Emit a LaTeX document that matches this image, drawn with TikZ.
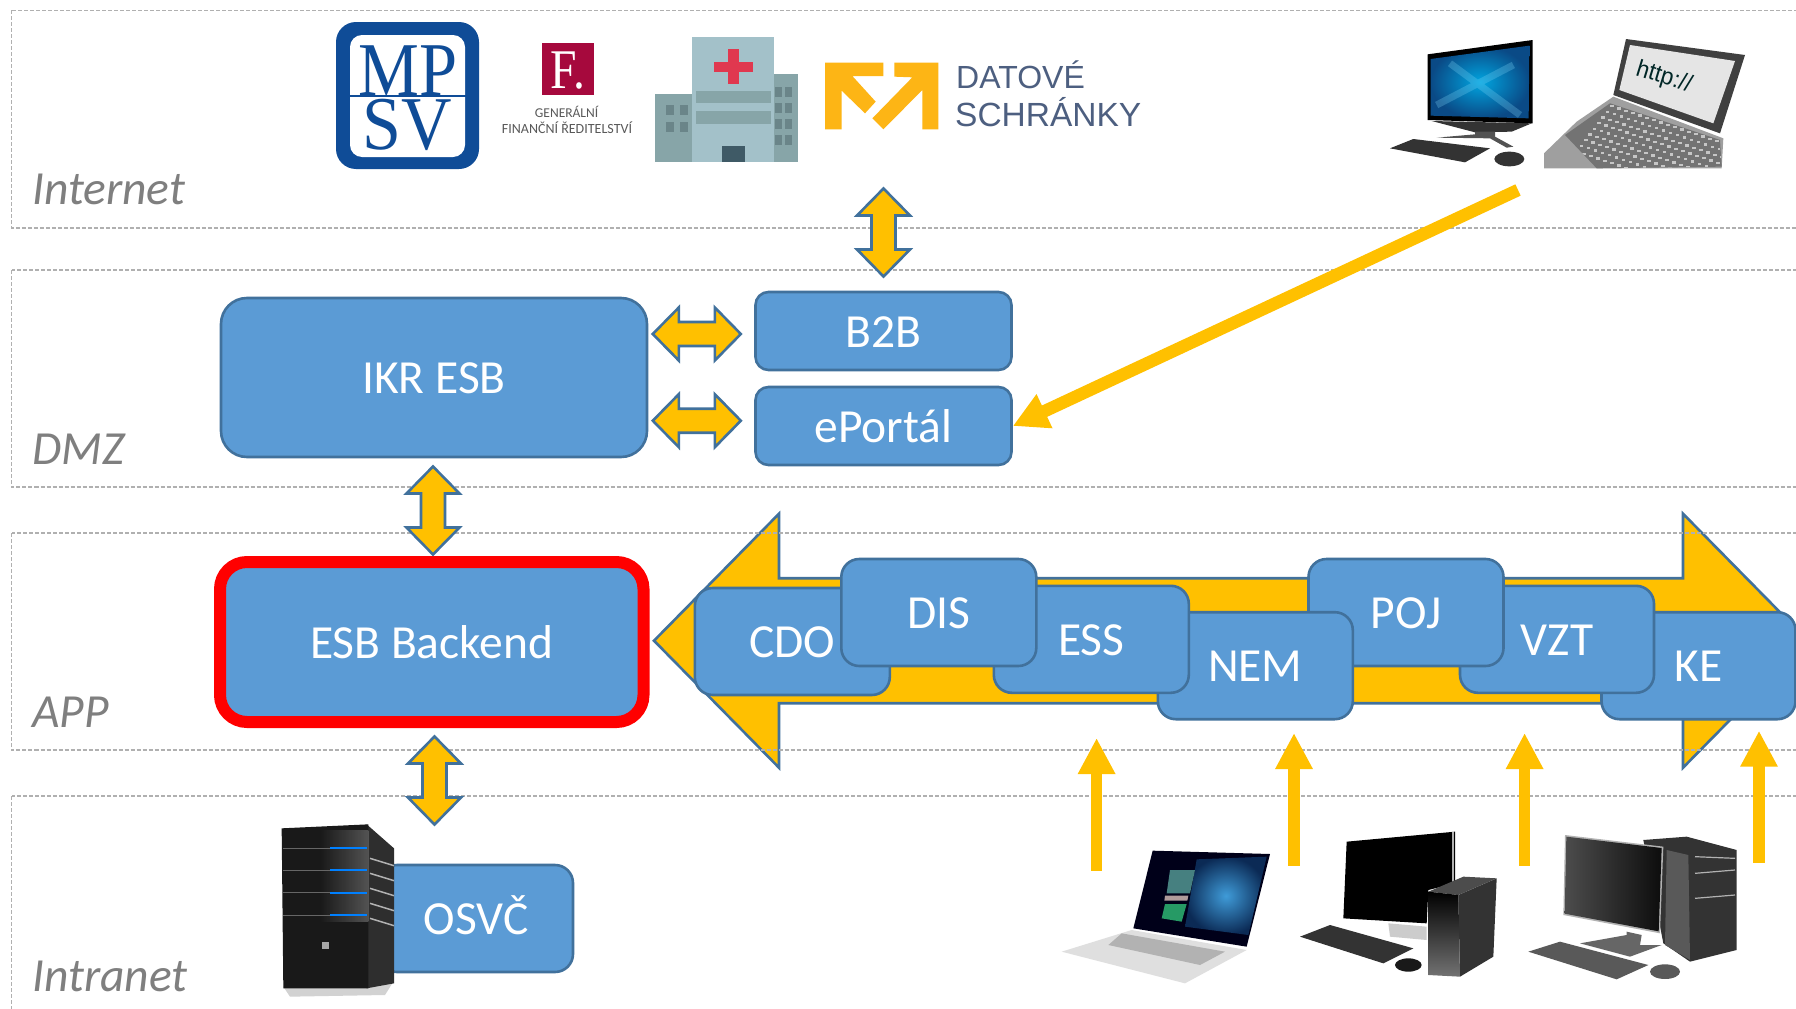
\documentclass[tikz,border=0pt]{standalone}
\usepackage{fontspec}
\setmainfont{Carlito}
\newfontfamily\lserif{Liberation Serif}
\newfontfamily\lsans{Liberation Sans}
\usetikzlibrary{arrows.meta}
\newcommand\fsz[1]{\fontsize{#1}{#1}\selectfont}
\definecolor{boxblue}{HTML}{5B9BD5}
\definecolor{boxline}{HTML}{41719C}
\definecolor{amber}{HTML}{FFC000}
\definecolor{zonegray}{HTML}{B0B0B0}
\definecolor{labelgray}{HTML}{7F7F7F}
\definecolor{mpsv}{HTML}{0F4C97}
\definecolor{gfrred}{HTML}{A6093D}
\definecolor{hosplight}{HTML}{A3C1C9}
\definecolor{hospdark}{HTML}{87A5A8}
\definecolor{hospwin}{HTML}{6A8589}
\definecolor{hospred}{HTML}{E0384F}
\definecolor{hospdoor}{HTML}{3F5A66}
\definecolor{dslogo}{HTML}{FDB515}
\definecolor{dstext}{HTML}{4D5F80}
\definecolor{kbd}{HTML}{333333}
\definecolor{screenhi}{HTML}{00A5E0}
\definecolor{screenlo}{HTML}{0A4A86}
\definecolor{winnavy}{HTML}{0B2A55}
\definecolor{winglow}{HTML}{3F9BD8}
\tikzset{
  zone/.style={draw=zonegray,line width=1.6pt,dash pattern=on 4pt off 2pt},
  zonelabel/.style={anchor=base west,inner sep=0pt,text=labelgray,font=\fsz{47.5}\itshape},
  blockbox/.style={draw=boxline,fill=boxblue,line width=2.6pt,text=white,font=\fsz{47.5},inner sep=0pt,align=center,text height=32.5pt,text depth=0pt},
  blockarrow/.style={draw=boxline,fill=amber,line width=2.6pt,line join=miter},
  amberarrow/.style={draw=amber,line width=11.5pt,-{Triangle[length=36pt,width=35pt]}},
  icon/.style 2 args={shift={(#1,#2)},x=.33333pt,y=-.33333pt},
}
% name, centre x, centre y, rotation, half length, head length, half wing, half shaft
\newcommand\dblblock[8]{%
  \begin{scope}[shift={(#2,#3)},rotate=#4]
  \coordinate (#1) at (0,0);
  \draw[blockarrow] (-#5,0)--({-#5+#6},-#7)--({-#5+#6},-#8)--({#5-#6},-#8)--({#5-#6},-#7)--(#5,0)
    --({#5-#6},#7)--({#5-#6},#8)--({-#5+#6},#8)--({-#5+#6},#7)--cycle;
  \end{scope}}
\begin{document}
\begin{tikzpicture}[x=1pt,y=-1pt]
\useasboundingbox (0,0) rectangle (1796,1009);
\clip (0,0) rectangle (1796,1009);
\fill[white] (0,0) rectangle (1796,1009);

% big flow arrow
\dblblock{flow}{1231}{640.7}{0}{577}{125}{127}{62.5}

% zones
\draw[zone] (11.5,10.3) rectangle (1830,228);
\draw[zone] (11.5,270) rectangle (1830,487);
\draw[zone] (11.5,533) rectangle (1830,750);
\draw[zone] (11.5,796) rectangle (1830,1040);
\node[zonelabel] (zinternet) at (32,204) {Internet};
\node[zonelabel] (zdmz) at (32,464) {DMZ};
\node[zonelabel] (zapp) at (32,727.5) {APP};
\node[zonelabel] (zintranet) at (32,991.5) {Intranet};

% boxes
\node[blockbox,rounded corners=26pt,minimum width=426pt,minimum height=159pt] (ikr) at (434,377.5) {IKR ESB};
\node[blockbox,rounded corners=13pt,minimum width=256pt,minimum height=78pt] (b2b) at (883.5,331) {B2B};
\node[blockbox,rounded corners=13pt,minimum width=256pt,minimum height=78pt] (eportal) at (883.5,426) {ePortál};
\node[blockbox,draw=red,line width=12pt,rounded corners=27pt,minimum width=423.5pt,minimum height=160pt] (esb) at (431.75,642) {ESB Backend};
\node[blockbox,rounded corners=18pt,minimum width=194pt,minimum height=107pt] (ke) at (1698.5,665.7) {KE};
\node[blockbox,rounded corners=18pt,minimum width=194pt,minimum height=107pt] (vzt) at (1557,639.3) {VZT};
\node[blockbox,rounded corners=18pt,minimum width=195pt,minimum height=107pt] (poj) at (1406,612.5) {POJ};
\node[blockbox,rounded corners=18pt,minimum width=195pt,minimum height=107pt] (nem) at (1255.3,665.7) {NEM};
\node[blockbox,rounded corners=18pt,minimum width=195pt,minimum height=107pt] (ess) at (1091.3,639.3) {ESS};
\node[blockbox,rounded corners=18pt,minimum width=195pt,minimum height=107pt] (cdo) at (792.3,641.5) {CDO};
\node[blockbox,rounded corners=18pt,minimum width=195pt,minimum height=107pt] (dis) at (938.8,612.5) {DIS};
\node[blockbox,rounded corners=18pt,minimum width=194pt,minimum height=107pt] (osvc) at (476,918.5) {OSVČ};

% double arrows
\dblblock{a1}{883.5}{232.5}{90}{44}{27}{26.5}{12}
\dblblock{a2}{696.8}{334}{0}{44}{26}{26.5}{12}
\dblblock{a3}{696.8}{420.7}{0}{44}{26}{26.5}{12}
\dblblock{a4}{433}{510.5}{90}{44}{27}{26.5}{12}
\dblblock{a5}{434.5}{780.5}{90}{44}{27}{26.5}{12}

% single arrows
\coordinate (web) at (1518,190);
\draw[draw=amber,line width=12.5pt,-{Triangle[length=35pt,width=35pt]}] (web) -- (eportal.east);
\coordinate (t1) at (1096.6,738); \coordinate (s1) at (1096.6,870.7);
\coordinate (t2) at (1294,733);   \coordinate (s2) at (1294,865.7);
\coordinate (t3) at (1524.6,733); \coordinate (s3) at (1524.6,865.7);
\coordinate (t4) at (1759,730.7); \coordinate (s4) at (1759,862.7);
\draw[amberarrow] (s1) -- (t1);
\draw[amberarrow] (s2) -- (t2);
\draw[amberarrow] (s3) -- (t3);
\draw[amberarrow] (s4) -- (t4);

% MPSV logo
\fill[mpsv,rounded corners=20pt] (336,22) rectangle (479,169);
\fill[white,rounded corners=12pt] (350,35) rectangle (465,157);
\node[anchor=base,inner sep=0pt,text=mpsv,font=\lserif\fsz{76},xscale=.9,text height=50pt,text depth=0pt] (mp) at (408,95) {MP};
\node[anchor=base,inner sep=0pt,text=mpsv,font=\lserif\fsz{76},xscale=.92,text height=50pt,text depth=0pt] (sv) at (407,149) {SV};
\draw[mpsv,line width=1.4pt] (349,96) -- (466,96);

% GFR logo
\fill[gfrred] (542,43) rectangle (594,95);
\node[anchor=base,inner sep=0pt,text=white,font=\lserif\fsz{56},xscale=.85] (gfrf) at (568,88) {F.};
\node[anchor=base,inner sep=0pt,text=black!65,font=\fsz{13.5}] (gfr1) at (566.6,117) {GENERÁLNÍ};
\node[anchor=base,inner sep=0pt,text=black!65,font=\fsz{14}] (gfr2) at (567,133) {FINANČNÍ ŘEDITELSTVÍ};

% hospital
\fill[hospdark] (655,94) rectangle (692,162);
\fill[hospdark] (774,74) rectangle (798,162);
\fill[hosplight] (692,37) rectangle (774,162);
\fill[hospdark] (696,91) rectangle (771,103);
\fill[hospdark] (696,111) rectangle (771,124);
\fill[hospred] (713.5,62) rectangle (753,72);
\fill[hospred] (727.5,49) rectangle (739,84);
\fill[hospdoor] (722,146) rectangle (745,162);
\foreach \wx in {666,680} \foreach \wy in {105,122} \fill[hospwin] (\wx,\wy) rectangle ++(8,10);
\foreach \wx in {775,785} \foreach \wy in {87,103,119,135} \fill[hospwin] (\wx,\wy) rectangle ++(7,10);

% Datove schranky logo
\begin{scope}[icon={815}{50}]
\fill[dslogo] (30,38)--(205,38)--(205,78)--(112,78)--(182,155)--(150,190)--(80,122)--(80,238)--(30,238)--cycle;
\fill[dslogo] (238,38)--(370,38)--(370,238)--(322,238)--(322,120)--(205,238)--(172,205)--(292,82)--(238,80)--cycle;
\end{scope}
\node[anchor=base west,inner sep=0pt,text=dstext,font=\lsans\fsz{32}] (ds1) at (956,88) {DATOVÉ};
\node[anchor=base west,inner sep=0pt,text=dstext,font=\lsans\fsz{33.5}] (ds2) at (955,126) {SCHRÁNKY};

% all-in-one desktop
\begin{scope}[icon={1380}{25}]
\fill[kbd] (155,288)--(455,295)--(395,320)--(285,322)--cycle;
\fill[kbd!85] (285,320)--(345,320)--(345,335)--(400,365)--(380,368)--(330,340)--(170,338)--(285,328)--cycle;
\fill[black] (143,88)--(458,45)--(458,295)--(143,285)--cycle;
\shade[inner color=screenhi,outer color=screenlo] (152,102)--(448,62)--(446,280)--(152,272)--cycle;
\draw[cyan!50!white,line width=7pt,opacity=.28] (210,115)--(420,270) (170,240)--(400,120);
\fill[kbd] (30,370)--(100,342)--(330,370)--(255,412)--cycle;
\fill[kbd] (388,402) ellipse[x radius=45,y radius=22];
\end{scope}

% http laptop
\begin{scope}[icon={1380}{25}]
\fill[gray!75] (700,215)--(1030,340)--(1025,430)--(492,430)--(492,385)--(590,290)--cycle;
\fill[black!55] (690,235)--(1020,345)--(1025,425)--(650,430)--(555,330)--cycle;
\begin{scope}
\clip (690,235)--(1020,345)--(1025,425)--(650,430)--(555,330)--cycle;
\foreach \r in {0,...,8} \foreach \c in {0,...,17}
  \fill[gray!45] ({690+\c*21-\r*13},{240+\c*7+\r*17}) rectangle ++(11,7);
\end{scope}
\fill[black!75] (738,42)--(1095,90)--(1020,325)--(700,210)--cycle;
\fill[gray!20] (750,60)--(1065,108)--(1000,295)--(718,195)--cycle;
\node[inner sep=0pt,rotate=-17,text=black!70!teal,font=\lsans\fsz{24},xscale=.95] (http) at (852,158) {http://};
\end{scope}

% server
\begin{scope}[icon={270}{815}]
\fill[gray!35] (40,515)--(370,500)--(345,540)--(60,545)--cycle;
\fill[black!82] (290,28)--(372,100)--(372,505)--(290,520)--cycle;
\foreach \sy in {130,175,220,265,310} \draw[gray!60,line width=1.5pt] (300,\sy)--(372,\sy+22);
\fill[black!90] (35,40)--(295,28)--(295,520)--(40,520)--cycle;
\shade[left color=black!90,right color=black!65,opacity=.9] (150,45) rectangle (295,320);
\foreach \sy in {100,165,233,300} {
  \draw[black!60,line width=1pt] (40,\sy)--(180,\sy);
  \fill[blue!50!cyan] (180,\sy-3) rectangle (290,\sy+3);
}
\fill[gray!70] (155,380) rectangle (178,402);
\end{scope}

% silver laptop
\begin{scope}[icon={1050}{830}]
\fill[gray!25] (245,300)--(590,360)--(405,460)--(35,365)--cycle;
\fill[gray!60] (215,310)--(525,365)--(450,405)--(175,345)--cycle;
\fill[black!90!blue] (308,62)--(660,72)--(590,350)--(250,295)--cycle;
\shade[inner color=winglow,outer color=winnavy] (440,88)--(650,80)--(595,315)--(405,290)--cycle;
\fill[teal!45!gray] (360,120)--(435,120)--(420,190)--(350,190)--cycle;
\fill[red!12!gray!70] (345,197)--(415,197)--(412,212)--(343,212)--cycle;
\fill[green!30!teal!70!gray] (345,222)--(410,222)--(395,275)--(335,265)--cycle;
\end{scope}

% desktop with slim tower
\begin{scope}[icon={1290}{820}]
\fill[gray!40] (295,310)--(410,320)--(410,360)--(300,350)--cycle;
\fill[black] (170,65)--(495,35)--(495,190)--(415,210)--(410,310)--(160,295)--cycle;
\draw[gray!60,line width=2pt] (490,35)--(490,190);
\fill[kbd] (30,350)--(120,315)--(370,385)--(280,430)--cycle;
\fill[black!90] (355,435) ellipse[x radius=40,y radius=20];
\fill[black!80] (505,225)--(620,175)--(610,410)--(510,470)--cycle;
\fill[black!70] (415,215)--(520,170)--(620,175)--(505,225)--cycle;
\shade[top color=black,bottom color=black!55] (415,215)--(505,225)--(510,470)--(415,465)--cycle;
\end{scope}

% desktop with big tower
\begin{scope}[icon={1520}{820}]
\fill[black!80] (370,60)--(500,50)--(650,90)--(650,390)--(510,425)--(430,370)--cycle;
\fill[black!65] (440,90)--(505,105)--(510,420)--(435,375)--cycle;
\draw[gray!60,line width=1.2pt] (525,110)--(645,115) (525,160)--(645,150) (525,235)--(645,225);
\fill[black!60] (320,335)--(365,345)--(360,375)--(425,375)--(330,410)--(180,370)--(320,345)--cycle;
\fill[gray!60] (135,45)--(430,80)--(420,340)--(130,285)--cycle;
\shade[left color=black!70,right color=black!95] (139,50)--(425,84)--(416,334)--(134,281)--cycle;
\fill[black!65] (25,395)--(120,365)--(385,435)--(290,478)--cycle;
\fill[black!65] (435,455) ellipse[x radius=45,y radius=22];
\end{scope}
\end{tikzpicture}
\end{document}
